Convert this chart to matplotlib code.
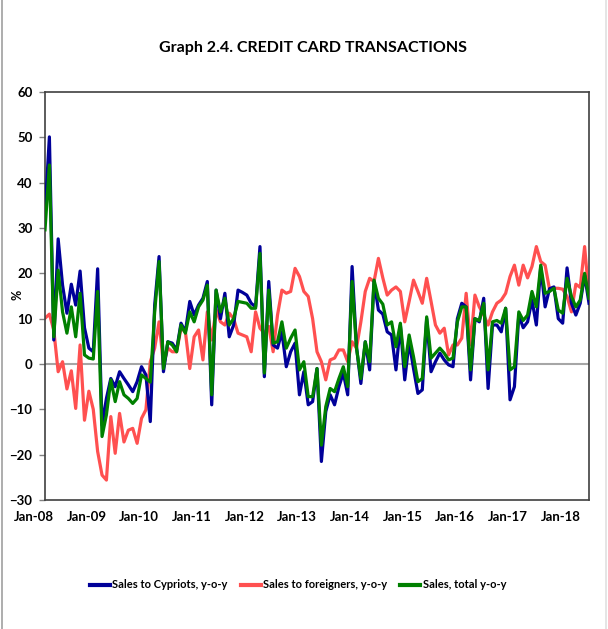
import matplotlib
matplotlib.use('Agg')
import matplotlib.pyplot as plt
from matplotlib.lines import Line2D
from matplotlib.transforms import ScaledTranslation
import numpy as np

# monthly y-o-y changes, Jan-08 onwards (%)
cypriots = [
    33.2, 50.1, 5.3, 27.6, 17.4, 11.2, 17.6, 13.0, 20.5, 8.0, 3.5, 2.7,
    21.0, -13.5, -7.6, -3.2, -5.0, -1.7, -3.2, -4.6, -6.1, -3.9, -0.6, -2.4,
    -12.7, 13.0, 23.7, -1.7, 4.9, 4.6, 3.1, 9.0, 7.1, 13.8, 10.8, 13.0,
    14.5, 18.2, -9.0, 16.3, 10.0, 15.6, 6.0, 8.6, 16.3, 15.8, 15.2, 13.4,
    12.6, 25.9, -2.8, 18.2, 4.2, 3.5, 7.1, -0.6, 2.7, 4.6, -6.8, -1.7,
    -9.0, -8.3, -1.0, -21.5, -10.5, -6.8, -9.0, -5.0, -2.0, -6.8, 21.5, 3.8,
    -4.3, 4.9, -1.3, 18.2, 11.9, 11.0, 7.1, 6.4, -1.3, 8.6, -3.5, 4.9,
    -1.0, -6.5, -5.7, 10.0, -1.7, 0.5, 2.4, 0.9, -0.2, -0.6, 10.0, 13.4,
    12.6, -3.5, 10.0, 9.3, 14.5, -5.4, 8.6, 8.6, 7.1, 12.3, -7.9, -5.0,
    10.8, 8.0, 9.3, 14.1, 8.6, 21.5, 12.6, 16.6, 17.0, 10.0, 9.0, 21.2,
    13.4, 10.8, 13.4, 19.6, 13.4,
]
foreigners = [
    10.1, 11.0, 7.5, -1.7, 0.5, -5.5, -1.5, -9.8, 4.2, -12.4, -6.0, -10.0,
    -19.3, -24.5, -25.6, -11.6, -19.7, -10.9, -17.2, -14.6, -14.2, -17.5, -12.0, -10.1,
    0.5, 3.5, 9.3, -0.2, 3.5, 2.7, 2.7, 7.9, 7.1, -1.0, 6.0, 7.5,
    0.9, 11.5, 5.3, 12.0, 9.3, 8.6, 11.2, 10.0, 6.8, 6.4, 6.0, 2.7,
    11.5, 7.9, 6.8, 8.3, 2.7, 10.8, 16.3, 15.6, 16.0, 21.1, 19.3, 16.0,
    14.9, 10.0, 2.7, 0.5, -3.5, 0.9, 1.3, 3.1, 3.1, 0.5, 4.9, 3.5,
    9.3, 16.0, 18.9, 18.2, 23.3, 19.0, 15.2, 16.3, 17.0, 16.0, 9.3, 13.8,
    18.5, 16.0, 13.4, 18.9, 13.8, 8.6, 6.8, 7.9, 2.0, 4.2, 4.2, 5.7,
    15.6, 4.2, 15.2, 12.6, 10.8, 8.6, 11.5, 13.4, 14.1, 15.6, 19.3, 21.8,
    17.4, 21.8, 19.0, 21.5, 25.9, 22.6, 21.8, 16.5, 16.7, 16.7, 16.5, 14.9,
    11.5, 17.6, 16.9, 25.9, 14.9,
]
total = [
    29.6, 43.9, 6.0, 20.7, 11.5, 6.8, 12.6, 6.0, 15.6, 2.0, 1.3, 1.1,
    16.0, -16.0, -11.2, -3.5, -8.3, -3.9, -6.8, -7.6, -8.7, -7.6, -2.4, -3.2,
    -4.0, 11.5, 22.6, -1.0, 4.9, 4.2, 2.7, 8.6, 6.8, 11.5, 9.3, 12.6,
    14.1, 17.4, -6.8, 16.3, 11.5, 14.5, 8.6, 10.0, 13.8, 13.6, 13.4, 12.3,
    12.3, 24.4, -2.0, 16.3, 4.6, 4.9, 9.3, 3.5, 5.7, 7.5, -1.3, 0.5,
    -7.2, -7.2, -1.0, -17.9, -9.4, -5.4, -6.1, -3.2, -0.6, -5.0, 18.2, 3.5,
    -3.2, 4.9, 0.5, 18.5, 14.5, 13.2, 8.6, 9.3, 3.8, 9.0, -0.6, 6.4,
    1.6, -3.9, -3.2, 10.4, 1.3, 2.4, 3.5, 2.4, 0.9, 1.3, 9.3, 12.6,
    12.6, -1.3, 10.0, 9.6, 13.4, -1.3, 9.3, 9.6, 9.0, 12.3, -1.3, -0.6,
    11.5, 9.6, 10.8, 16.0, 12.6, 21.8, 15.6, 16.0, 16.7, 11.9, 11.2, 18.9,
    14.9, 12.6, 14.1, 20.0, 14.5,
]
year_labels = ['Jan-08', 'Jan-09', 'Jan-10', 'Jan-11', 'Jan-12', 'Jan-13',
               'Jan-14', 'Jan-15', 'Jan-16', 'Jan-17', 'Jan-18']

plt.rcParams['font.family'] = ['Lato', 'DejaVu Sans']

fig = plt.figure(figsize=(6.08, 6.29), dpi=100)
ax = fig.add_axes([45 / 608, 1 - 500 / 629, 544 / 608, 408 / 629])

months = np.arange(len(cypriots))
ax.axhline(0, color='#a6a6a6', lw=1.5, zorder=1)
ax.plot(months, foreigners, color='#ff5050', lw=2.3, zorder=2)
ax.plot(months, cypriots, color='#000099', lw=2.3, zorder=3)
ax.plot(months, total, color='#008000', lw=2.3, zorder=4)

ax.set_xlim(0, len(cypriots) - 1)
ax.set_ylim(-30, 60)
ax.set_yticks(np.arange(-30, 61, 10))
ax.set_xticks(np.arange(0, len(cypriots), 12))
ax.set_xticklabels(year_labels)
ax.tick_params(axis='x', length=0, pad=8)
ax.tick_params(axis='y', length=4, width=1, color='#808080', pad=5, direction='out')
for lab in ax.get_xticklabels() + ax.get_yticklabels():
    lab.set_fontweight('bold')
    lab.set_fontsize(9.5)
for lab in ax.get_xticklabels():
    lab.set_transform(lab.get_transform() + ScaledTranslation(-0.11, 0, fig.dpi_scale_trans))
for side in ['top', 'right', 'bottom', 'left']:
    ax.spines[side].set_color('#404040')
    ax.spines[side].set_linewidth(1.2)

fig.text(17 / 608, 1 - 295 / 629, '%', rotation=90, ha='center', va='center',
         fontsize=9, fontweight='bold')
fig.text(0.515, 1 - 48 / 629, 'Graph 2.4. CREDIT CARD TRANSACTIONS',
         ha='center', va='center', fontsize=11.5, fontweight='bold')

handles = [Line2D([], [], color='#000099', lw=3),
           Line2D([], [], color='#ff5050', lw=3),
           Line2D([], [], color='#008000', lw=3)]
names = ['Sales to Cypriots, y-o-y', 'Sales to foreigners, y-o-y', 'Sales, total y-o-y']
fig.legend(handles, names, loc='center', bbox_to_anchor=(298 / 608, 1 - 585 / 629),
           ncol=3, frameon=False, handlelength=1.8, handletextpad=0.2,
           columnspacing=1.2, prop={'family': ['Lato', 'DejaVu Sans'], 'weight': 'bold', 'size': 8})

# outer frame of the original picture
fig.add_artist(Line2D([2 / 608, 2 / 608], [0, 1], color='#a0a0a0', lw=1.2))
fig.add_artist(Line2D([606 / 608, 606 / 608], [0, 1], color='#e0e0e0', lw=1.2))

fig.savefig('out.png', dpi=100)
